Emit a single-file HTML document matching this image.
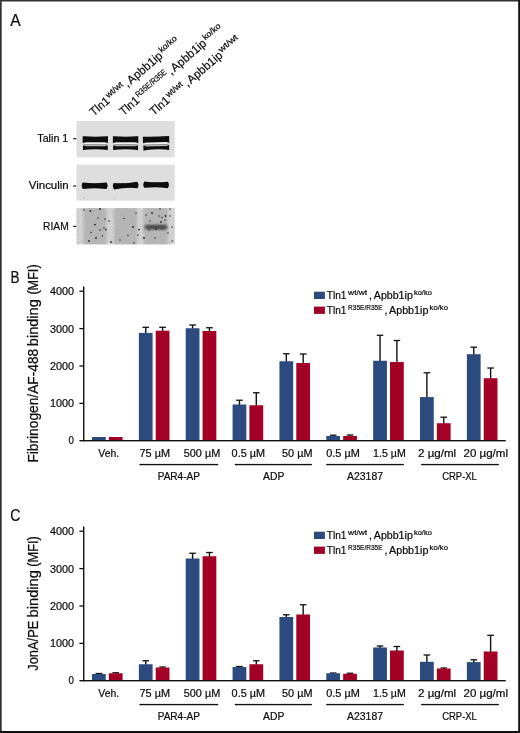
<!DOCTYPE html>
<html><head><meta charset="utf-8"><title>Figure</title>
<style>
html,body{margin:0;padding:0;background:#fff;}
body{width:520px;height:733px;overflow:hidden;position:relative;font-family:"Liberation Sans",sans-serif;}
svg{position:absolute;left:0;top:0;display:block;}
svg text{font-family:"Liberation Sans",sans-serif;fill:#0c0c0c;stroke:#0c0c0c;stroke-width:0.22px;}
</style></head><body>
<svg width="520" height="733" viewBox="0 0 520 733">
<defs>
<filter id="b1" x="-20%" y="-50%" width="140%" height="200%"><feGaussianBlur stdDeviation="0.45"/></filter>
<filter id="b2" x="-20%" y="-50%" width="140%" height="200%"><feGaussianBlur stdDeviation="1.25"/></filter>
<filter id="b3" x="-50%" y="-50%" width="200%" height="200%"><feGaussianBlur stdDeviation="0.35"/></filter>
<filter id="b5" x="-20%" y="-60%" width="140%" height="220%"><feGaussianBlur stdDeviation="1.0"/></filter>
<filter id="nz" x="0" y="0" width="100%" height="100%"><feTurbulence type="fractalNoise" baseFrequency="0.55" numOctaves="2" seed="7" result="n"/><feColorMatrix type="matrix" values="0 0 0 0 0.35  0 0 0 0 0.35  0 0 0 0 0.35  0.9 0 0 -0.32 0"/></filter>
<filter id="b4" x="-20%" y="-20%" width="140%" height="140%"><feGaussianBlur stdDeviation="1.6"/></filter>
</defs>
<rect x="0" y="0" width="520" height="733" fill="#fff"/>
<g opacity="0.999">

<rect x="0" y="0" width="520" height="1.5" fill="#333"/>
<rect x="0" y="0" width="1.7" height="733" fill="#333"/>
<rect x="518.2" y="0" width="1.8" height="733" fill="#111"/>
<rect x="0" y="731" width="520" height="2" fill="#111"/>
<text x="10.3" y="25.8" font-size="16.6" text-anchor="start" textLength="10.4" lengthAdjust="spacingAndGlyphs">A</text>
<text x="10.6" y="282.5" font-size="16.6" text-anchor="start" textLength="9" lengthAdjust="spacingAndGlyphs">B</text>
<text x="10.2" y="521" font-size="16.6" text-anchor="start" textLength="10.2" lengthAdjust="spacingAndGlyphs">C</text>
<rect x="76.5" y="121.0" width="98.19999999999999" height="36.19999999999999" fill="#dedede"/>
<rect x="76.5" y="164.7" width="98.19999999999999" height="36.0" fill="#dedede"/>
<rect x="76.5" y="208.1" width="98.19999999999999" height="36.20000000000002" fill="#dadada"/>
<g filter="url(#b1)">
<g>
<rect x="83.5" y="141.5" width="23.699999999999996" height="6" fill="#c2c2c2"/>
<rect x="84.3" y="142.3" width="22.099999999999998" height="1.8" fill="#f4f4f4"/>
<rect x="83.9" y="144.4" width="22.9" height="0.8" fill="#808080"/>
<path d="M82.7 136.3 Q95.35 137.0 108.0 136.3 L108.0 143.0 Q106.0 142.2 104.5 142.2 L86.2 142.2 Q84.7 142.2 82.7 143.0 Z" fill="#080808"/>
<path d="M83.0 145.0 Q84.5 146.2 86.2 146.2 L104.5 146.2 Q106.2 146.2 107.7 145.0 L107.7 150.3 Q104.0 149.2 95.35 149.2 Q86.7 149.2 83.0 150.3 Z" fill="#080808"/>
</g>
<g>
<rect x="113.7" y="141.5" width="23.800000000000004" height="6" fill="#c2c2c2"/>
<rect x="114.5" y="142.3" width="22.200000000000006" height="1.8" fill="#f4f4f4"/>
<rect x="114.10000000000001" y="144.4" width="23.000000000000007" height="0.8" fill="#808080"/>
<path d="M112.9 136.3 Q125.60000000000001 137.0 138.3 136.3 L138.3 143.0 Q136.3 142.2 134.8 142.2 L116.4 142.2 Q114.9 142.2 112.9 143.0 Z" fill="#080808"/>
<path d="M113.2 145.0 Q114.7 146.2 116.4 146.2 L134.8 146.2 Q136.5 146.2 138.0 145.0 L138.0 150.3 Q134.3 149.2 125.60000000000001 149.2 Q116.9 149.2 113.2 150.3 Z" fill="#080808"/>
</g>
<g transform="rotate(-1.6 156.15 143)">
<rect x="143.8" y="141.5" width="24.70000000000001" height="6" fill="#c2c2c2"/>
<rect x="144.6" y="142.3" width="23.100000000000012" height="1.8" fill="#f4f4f4"/>
<rect x="144.2" y="144.4" width="23.900000000000013" height="0.8" fill="#808080"/>
<path d="M143.0 136.3 Q156.15 137.0 169.3 136.3 L169.3 143.0 Q167.3 142.2 165.8 142.2 L146.5 142.2 Q145.0 142.2 143.0 143.0 Z" fill="#080808"/>
<path d="M143.3 145.0 Q144.8 146.2 146.5 146.2 L165.8 146.2 Q167.5 146.2 169.0 145.0 L169.0 150.3 Q165.3 149.2 156.15 149.2 Q147.0 149.2 143.3 150.3 Z" fill="#080808"/>
</g>
</g>
<g filter="url(#b1)">
<path d="M82.80000000000001 182.6 Q94.65 184.1 106.5 182.6 Q108.7 185.8 106.5 189.0 Q94.65 187.3 82.80000000000001 189.0 Q80.60000000000001 185.8 82.80000000000001 182.6 Z" fill="#080808"/>
<path transform="rotate(-3.2 125.65 185.5)" d="M113.9 182.39999999999998 Q125.65 183.89999999999998 137.4 182.39999999999998 Q139.60000000000002 185.59999999999997 137.4 188.79999999999998 Q125.65 187.1 113.9 188.79999999999998 Q111.7 185.59999999999997 113.9 182.39999999999998 Z" fill="#080808"/>
<path transform="rotate(0.8 156.1 185.5)" d="M144.4 181.6 Q156.1 183.1 167.79999999999998 181.6 Q170.0 184.8 167.79999999999998 188.0 Q156.1 186.3 144.4 188.0 Q142.2 184.8 144.4 181.6 Z" fill="#080808"/>
</g>
<circle cx="83.7" cy="197.7" r="0.6" fill="#aaa"/><circle cx="115" cy="198" r="0.6" fill="#aaa"/>
<g filter="url(#b2)">
<rect x="83.5" y="206.1" width="23.0" height="40.20000000000002" fill="#b9b9b9"/>
<rect x="114" y="206.1" width="23" height="40.20000000000002" fill="#b9b9b9"/>
<rect x="143.5" y="206.1" width="24.30000000000001" height="40.20000000000002" fill="#b9b9b9"/>
</g>
<rect x="73.5" y="203.1" width="104.19999999999999" height="5" fill="#fff"/>
<rect x="73.5" y="244.3" width="104.19999999999999" height="5" fill="#fff"/>
<rect x="76.5" y="208.1" width="98.19999999999999" height="36.20000000000002" filter="url(#nz)" opacity="0.55"/>
<rect x="144.4" y="224.7" width="23" height="4.8" rx="2" fill="#565656" filter="url(#b5)"/>
<rect x="147" y="225.8" width="19" height="2.8" rx="1.4" fill="#3c3c3c" filter="url(#b5)" opacity="0.5"/>
<g filter="url(#b3)" fill="#2a2a2a">
<circle cx="90.4" cy="211" r="0.95"/>
<circle cx="98" cy="218" r="0.75"/>
<circle cx="105" cy="219" r="0.75"/>
<circle cx="95" cy="224.6" r="0.95"/>
<circle cx="100" cy="230" r="0.75"/>
<circle cx="104" cy="228" r="0.75"/>
<circle cx="106" cy="229.6" r="0.95"/>
<circle cx="91" cy="232.6" r="0.75"/>
<circle cx="102.4" cy="236" r="0.75"/>
<circle cx="89" cy="241" r="0.95"/>
<circle cx="109" cy="221" r="0.75"/>
<circle cx="124" cy="218.6" r="0.75"/>
<circle cx="133" cy="227" r="0.95"/>
<circle cx="128" cy="235.6" r="0.75"/>
<circle cx="138" cy="235" r="0.75"/>
<circle cx="139" cy="229.6" r="0.95"/>
<circle cx="136" cy="213" r="0.75"/>
<circle cx="146" cy="215" r="0.75"/>
<circle cx="152" cy="213" r="0.95"/>
<circle cx="159" cy="216" r="0.75"/>
<circle cx="162" cy="217.6" r="0.75"/>
<circle cx="165.6" cy="216" r="0.95"/>
<circle cx="170" cy="216" r="0.75"/>
<circle cx="165" cy="220" r="0.75"/>
<circle cx="161" cy="222" r="0.95"/>
<circle cx="172" cy="227" r="0.75"/>
<circle cx="149" cy="230" r="0.75"/>
<circle cx="156" cy="229" r="0.95"/>
<circle cx="162" cy="229" r="0.75"/>
<circle cx="155" cy="238" r="0.75"/>
<circle cx="144" cy="238" r="0.95"/>
<circle cx="172" cy="241" r="0.75"/>
<circle cx="134" cy="243" r="0.75"/>
<circle cx="111" cy="242" r="0.95"/>
<circle cx="160" cy="209" r="0.75"/>
<circle cx="170" cy="209" r="0.75"/>
<circle cx="100" cy="209" r="0.95"/>
<circle cx="84" cy="210" r="0.75"/>
<circle cx="120" cy="240" r="0.75"/>
<circle cx="96" cy="238" r="0.95"/>
<circle cx="150" cy="221" r="0.75"/>
<circle cx="168" cy="233" r="0.75"/>
</g>
<text x="68.3" y="142.2" font-size="11.2" text-anchor="end" textLength="31" lengthAdjust="spacingAndGlyphs">Talin 1</text>
<text x="68.7" y="188.8" font-size="11.2" text-anchor="end" textLength="39.9" lengthAdjust="spacingAndGlyphs">Vinculin</text>
<text x="68.7" y="230.0" font-size="11.2" text-anchor="end" textLength="25.7" lengthAdjust="spacingAndGlyphs">RIAM</text>
<rect x="73.2" y="138.1" width="3.0" height="1.2" fill="#1a1a1a"/>
<rect x="73.2" y="185.4" width="3.0" height="1.2" fill="#1a1a1a"/>
<rect x="73.2" y="225.8" width="3.0" height="1.2" fill="#1a1a1a"/>
<g transform="translate(93.84 116.47) rotate(-40.5)">
<text x="0" y="0" font-size="11.8" text-anchor="start" textLength="22" lengthAdjust="spacingAndGlyphs">Tln1</text>
<text x="23.0" y="-4.3" font-size="8.4" text-anchor="start" textLength="19.7" lengthAdjust="spacingAndGlyphs" stroke-width="0.12">wt/wt</text>
<text x="44.300000000000004" y="0" font-size="11.8" text-anchor="start">,</text>
<text x="49.0" y="0" font-size="11.8" text-anchor="start" textLength="42.6" lengthAdjust="spacingAndGlyphs">Apbb1ip</text>
<text x="92.6" y="-4.3" font-size="8.4" text-anchor="start" textLength="21.1" lengthAdjust="spacingAndGlyphs" stroke-width="0.12">ko/ko</text>
</g>
<g transform="translate(123.44 116.07) rotate(-40.5)">
<text x="0" y="0" font-size="11.8" text-anchor="start" textLength="22" lengthAdjust="spacingAndGlyphs">Tln1</text>
<text x="23.0" y="-4.3" font-size="8.4" text-anchor="start" textLength="38.3" lengthAdjust="spacingAndGlyphs" stroke-width="0.12">R35E/R35E</text>
<text x="62.9" y="0" font-size="11.8" text-anchor="start">,</text>
<text x="67.6" y="0" font-size="11.8" text-anchor="start" textLength="42.6" lengthAdjust="spacingAndGlyphs">Apbb1ip</text>
<text x="111.19999999999999" y="-4.3" font-size="8.4" text-anchor="start" textLength="21.1" lengthAdjust="spacingAndGlyphs" stroke-width="0.12">ko/ko</text>
</g>
<g transform="translate(153.74 116.07) rotate(-40.5)">
<text x="0" y="0" font-size="11.8" text-anchor="start" textLength="22" lengthAdjust="spacingAndGlyphs">Tln1</text>
<text x="23.0" y="-4.3" font-size="8.4" text-anchor="start" textLength="19.7" lengthAdjust="spacingAndGlyphs" stroke-width="0.12">wt/wt</text>
<text x="44.300000000000004" y="0" font-size="11.8" text-anchor="start">,</text>
<text x="49.0" y="0" font-size="11.8" text-anchor="start" textLength="42.6" lengthAdjust="spacingAndGlyphs">Apbb1ip</text>
<text x="92.6" y="-4.3" font-size="8.4" text-anchor="start" textLength="22.4" lengthAdjust="spacingAndGlyphs" stroke-width="0.12">wt/wt</text>
</g>
<rect x="92.00" y="437.00" width="13.75" height="3.50" fill="#2c4a7e"/>
<rect x="108.85" y="437.00" width="13.75" height="3.50" fill="#a30026"/>
<rect x="145.04" y="327.30" width="1.4" height="6.10" fill="#111"/>
<rect x="142.44" y="326.65" width="6.6" height="1.3" fill="#111"/>
<rect x="138.86" y="332.90" width="13.75" height="107.60" fill="#2c4a7e"/>
<rect x="161.89" y="327.30" width="1.4" height="3.90" fill="#111"/>
<rect x="159.28" y="326.65" width="6.6" height="1.3" fill="#111"/>
<rect x="155.71" y="330.70" width="13.75" height="109.80" fill="#a30026"/>
<rect x="191.90" y="325.00" width="1.4" height="3.75" fill="#111"/>
<rect x="189.29" y="324.35" width="6.6" height="1.3" fill="#111"/>
<rect x="185.72" y="328.25" width="13.75" height="112.25" fill="#2c4a7e"/>
<rect x="208.75" y="327.75" width="1.4" height="3.75" fill="#111"/>
<rect x="206.14" y="327.10" width="6.6" height="1.3" fill="#111"/>
<rect x="202.57" y="331.00" width="13.75" height="109.50" fill="#a30026"/>
<rect x="238.75" y="400.25" width="1.4" height="4.75" fill="#111"/>
<rect x="236.15" y="399.60" width="6.6" height="1.3" fill="#111"/>
<rect x="232.58" y="404.50" width="13.75" height="36.00" fill="#2c4a7e"/>
<rect x="255.60" y="392.75" width="1.4" height="13.00" fill="#111"/>
<rect x="253.00" y="392.10" width="6.6" height="1.3" fill="#111"/>
<rect x="249.43" y="405.25" width="13.75" height="35.25" fill="#a30026"/>
<rect x="285.62" y="353.75" width="1.4" height="8.00" fill="#111"/>
<rect x="283.01" y="353.10" width="6.6" height="1.3" fill="#111"/>
<rect x="279.44" y="361.25" width="13.75" height="79.25" fill="#2c4a7e"/>
<rect x="302.47" y="354.00" width="1.4" height="9.50" fill="#111"/>
<rect x="299.87" y="353.35" width="6.6" height="1.3" fill="#111"/>
<rect x="296.29" y="363.00" width="13.75" height="77.50" fill="#a30026"/>
<rect x="332.48" y="435.20" width="1.4" height="1.30" fill="#111"/>
<rect x="329.88" y="434.55" width="6.6" height="1.3" fill="#111"/>
<rect x="326.30" y="436.00" width="13.75" height="4.50" fill="#2c4a7e"/>
<rect x="349.33" y="435.00" width="1.4" height="1.50" fill="#111"/>
<rect x="346.73" y="434.35" width="6.6" height="1.3" fill="#111"/>
<rect x="343.15" y="436.00" width="13.75" height="4.50" fill="#a30026"/>
<rect x="379.33" y="335.25" width="1.4" height="26.00" fill="#111"/>
<rect x="376.73" y="334.60" width="6.6" height="1.3" fill="#111"/>
<rect x="373.16" y="360.75" width="13.75" height="79.75" fill="#2c4a7e"/>
<rect x="396.19" y="340.50" width="1.4" height="22.00" fill="#111"/>
<rect x="393.58" y="339.85" width="6.6" height="1.3" fill="#111"/>
<rect x="390.01" y="362.00" width="13.75" height="78.50" fill="#a30026"/>
<rect x="426.19" y="372.80" width="1.4" height="24.80" fill="#111"/>
<rect x="423.59" y="372.15" width="6.6" height="1.3" fill="#111"/>
<rect x="420.02" y="397.10" width="13.75" height="43.40" fill="#2c4a7e"/>
<rect x="443.05" y="417.20" width="1.4" height="6.50" fill="#111"/>
<rect x="440.44" y="416.55" width="6.6" height="1.3" fill="#111"/>
<rect x="436.87" y="423.20" width="13.75" height="17.30" fill="#a30026"/>
<rect x="473.06" y="347.20" width="1.4" height="7.50" fill="#111"/>
<rect x="470.45" y="346.55" width="6.6" height="1.3" fill="#111"/>
<rect x="466.88" y="354.20" width="13.75" height="86.30" fill="#2c4a7e"/>
<rect x="489.91" y="368.00" width="1.4" height="10.70" fill="#111"/>
<rect x="487.31" y="367.35" width="6.6" height="1.3" fill="#111"/>
<rect x="483.73" y="378.20" width="13.75" height="62.30" fill="#a30026"/>
<rect x="83.0" y="286.5" width="1.4" height="154.8" fill="#111"/>
<rect x="79.4" y="440.0" width="426.29999999999995" height="1.4" fill="#111"/>
<rect x="79.4" y="402.75" width="4" height="1.3" fill="#111"/>
<text x="74.0" y="407.3" font-size="10.8" text-anchor="end" textLength="24.1" lengthAdjust="spacingAndGlyphs">1000</text>
<rect x="79.4" y="365.35" width="4" height="1.3" fill="#111"/>
<text x="74.0" y="369.9" font-size="10.8" text-anchor="end" textLength="24.1" lengthAdjust="spacingAndGlyphs">2000</text>
<rect x="79.4" y="327.95" width="4" height="1.3" fill="#111"/>
<text x="74.0" y="332.5" font-size="10.8" text-anchor="end" textLength="24.1" lengthAdjust="spacingAndGlyphs">3000</text>
<rect x="79.4" y="290.55" width="4" height="1.3" fill="#111"/>
<text x="74.0" y="295.1" font-size="10.8" text-anchor="end" textLength="24.1" lengthAdjust="spacingAndGlyphs">4000</text>
<text x="74.0" y="444.45" font-size="10.8" text-anchor="end" textLength="5.4" lengthAdjust="spacingAndGlyphs">0</text>
<g transform="translate(37.9 462.6) rotate(-90)">
<text x="0" y="0" font-size="14.2" text-anchor="start" textLength="113.8" lengthAdjust="spacingAndGlyphs" stroke-width="0.15">Fibrinogen/AF-488</text>
</g>
<g transform="translate(37.9 346.2) rotate(-90)">
<text x="0" y="0" font-size="14.2" text-anchor="start" textLength="47.0" lengthAdjust="spacingAndGlyphs" stroke-width="0.15">binding</text>
</g>
<g transform="translate(37.9 294.6) rotate(-90)">
<text x="0" y="0" font-size="14.2" text-anchor="start" textLength="30.2" lengthAdjust="spacingAndGlyphs" stroke-width="0.15">(MFI)</text>
</g>
<text x="98.25" y="457" font-size="10.9" text-anchor="start" textLength="21.0" lengthAdjust="spacingAndGlyphs">Veh.</text>
<text x="139.5" y="457" font-size="10.9" text-anchor="start" textLength="30.5" lengthAdjust="spacingAndGlyphs">75 µM</text>
<text x="183.75" y="457" font-size="10.9" text-anchor="start" textLength="36.5" lengthAdjust="spacingAndGlyphs">500 µM</text>
<text x="231.6" y="457" font-size="10.9" text-anchor="start" textLength="33.4" lengthAdjust="spacingAndGlyphs">0.5 µM</text>
<text x="282.0" y="457" font-size="10.9" text-anchor="start" textLength="30.5" lengthAdjust="spacingAndGlyphs">50 µM</text>
<text x="326.25" y="457" font-size="10.9" text-anchor="start" textLength="33.6" lengthAdjust="spacingAndGlyphs">0.5 µM</text>
<text x="373.0" y="457" font-size="10.9" text-anchor="start" textLength="32.8" lengthAdjust="spacingAndGlyphs">1.5 µM</text>
<text x="418.0" y="457" font-size="10.9" text-anchor="start" textLength="38.1" lengthAdjust="spacingAndGlyphs">2 µg/ml</text>
<text x="463.5" y="457" font-size="10.9" text-anchor="start" textLength="44.5" lengthAdjust="spacingAndGlyphs">20 µg/ml</text>
<rect x="139.5" y="463.9" width="78.70" height="1.35" fill="#111"/>
<text x="157.7" y="479.8" font-size="10.6" text-anchor="start" textLength="42.3" lengthAdjust="spacingAndGlyphs">PAR4-AP</text>
<rect x="234.8" y="463.9" width="77.10" height="1.35" fill="#111"/>
<text x="263.0" y="479.8" font-size="10.6" text-anchor="start" textLength="21.3" lengthAdjust="spacingAndGlyphs">ADP</text>
<rect x="326.25" y="463.9" width="77.55" height="1.35" fill="#111"/>
<text x="347.0" y="479.8" font-size="10.6" text-anchor="start" textLength="36.0" lengthAdjust="spacingAndGlyphs">A23187</text>
<rect x="421.2" y="463.9" width="77.60" height="1.35" fill="#111"/>
<text x="442.2" y="479.8" font-size="10.6" text-anchor="start" textLength="34.7" lengthAdjust="spacingAndGlyphs">CRP-XL</text>
<rect x="314" y="291.7" width="10.9" height="7.3" fill="#2c4a7e"/>
<rect x="314" y="306.6" width="10.9" height="7.3" fill="#a30026"/>
<text x="326.8" y="299.0" font-size="10.2" text-anchor="start" textLength="19.5" lengthAdjust="spacingAndGlyphs">Tln1</text>
<text x="348.1" y="294.7" font-size="7.6" text-anchor="start" textLength="19.1" lengthAdjust="spacingAndGlyphs" stroke-width="0.12">wt/wt</text>
<text x="369.0" y="299.0" font-size="10.2" text-anchor="start">,</text>
<text x="373.8" y="299.0" font-size="10.2" text-anchor="start" textLength="39.0" lengthAdjust="spacingAndGlyphs">Apbb1ip</text>
<text x="414.0" y="294.7" font-size="7.6" text-anchor="start" textLength="17.8" lengthAdjust="spacingAndGlyphs" stroke-width="0.12">ko/ko</text>
<text x="326.8" y="313.9" font-size="10.2" text-anchor="start" textLength="19.5" lengthAdjust="spacingAndGlyphs">Tln1</text>
<text x="348.1" y="309.7" font-size="7.6" text-anchor="start" textLength="34.4" lengthAdjust="spacingAndGlyphs" stroke-width="0.12">R35E/R35E</text>
<text x="384.5" y="313.9" font-size="10.2" text-anchor="start">,</text>
<text x="389.0" y="313.9" font-size="10.2" text-anchor="start" textLength="39.4" lengthAdjust="spacingAndGlyphs">Apbb1ip</text>
<text x="429.6" y="309.59999999999997" font-size="7.6" text-anchor="start" textLength="18.4" lengthAdjust="spacingAndGlyphs" stroke-width="0.12">ko/ko</text>
<rect x="98.17" y="673.50" width="1.4" height="1.00" fill="#111"/>
<rect x="95.58" y="672.85" width="6.6" height="1.3" fill="#111"/>
<rect x="92.00" y="674.00" width="13.75" height="6.50" fill="#2c4a7e"/>
<rect x="115.02" y="672.75" width="1.4" height="1.00" fill="#111"/>
<rect x="112.42" y="672.10" width="6.6" height="1.3" fill="#111"/>
<rect x="108.85" y="673.25" width="13.75" height="7.25" fill="#a30026"/>
<rect x="145.04" y="660.75" width="1.4" height="4.00" fill="#111"/>
<rect x="142.44" y="660.10" width="6.6" height="1.3" fill="#111"/>
<rect x="138.86" y="664.25" width="13.75" height="16.25" fill="#2c4a7e"/>
<rect x="161.89" y="667.00" width="1.4" height="1.00" fill="#111"/>
<rect x="159.28" y="666.35" width="6.6" height="1.3" fill="#111"/>
<rect x="155.71" y="667.50" width="13.75" height="13.00" fill="#a30026"/>
<rect x="191.90" y="553.25" width="1.4" height="5.75" fill="#111"/>
<rect x="189.29" y="552.60" width="6.6" height="1.3" fill="#111"/>
<rect x="185.72" y="558.50" width="13.75" height="122.00" fill="#2c4a7e"/>
<rect x="208.75" y="552.50" width="1.4" height="4.25" fill="#111"/>
<rect x="206.14" y="551.85" width="6.6" height="1.3" fill="#111"/>
<rect x="202.57" y="556.25" width="13.75" height="124.25" fill="#a30026"/>
<rect x="238.75" y="666.50" width="1.4" height="1.00" fill="#111"/>
<rect x="236.15" y="665.85" width="6.6" height="1.3" fill="#111"/>
<rect x="232.58" y="667.00" width="13.75" height="13.50" fill="#2c4a7e"/>
<rect x="255.60" y="660.75" width="1.4" height="4.00" fill="#111"/>
<rect x="253.00" y="660.10" width="6.6" height="1.3" fill="#111"/>
<rect x="249.43" y="664.25" width="13.75" height="16.25" fill="#a30026"/>
<rect x="285.62" y="614.75" width="1.4" height="2.75" fill="#111"/>
<rect x="283.01" y="614.10" width="6.6" height="1.3" fill="#111"/>
<rect x="279.44" y="617.00" width="13.75" height="63.50" fill="#2c4a7e"/>
<rect x="302.47" y="604.75" width="1.4" height="10.25" fill="#111"/>
<rect x="299.87" y="604.10" width="6.6" height="1.3" fill="#111"/>
<rect x="296.29" y="614.50" width="13.75" height="66.00" fill="#a30026"/>
<rect x="332.48" y="673.00" width="1.4" height="0.75" fill="#111"/>
<rect x="329.88" y="672.35" width="6.6" height="1.3" fill="#111"/>
<rect x="326.30" y="673.25" width="13.75" height="7.25" fill="#2c4a7e"/>
<rect x="349.33" y="673.25" width="1.4" height="1.00" fill="#111"/>
<rect x="346.73" y="672.60" width="6.6" height="1.3" fill="#111"/>
<rect x="343.15" y="673.75" width="13.75" height="6.75" fill="#a30026"/>
<rect x="379.33" y="646.00" width="1.4" height="2.00" fill="#111"/>
<rect x="376.73" y="645.35" width="6.6" height="1.3" fill="#111"/>
<rect x="373.16" y="647.50" width="13.75" height="33.00" fill="#2c4a7e"/>
<rect x="396.19" y="646.50" width="1.4" height="4.50" fill="#111"/>
<rect x="393.58" y="645.85" width="6.6" height="1.3" fill="#111"/>
<rect x="390.01" y="650.50" width="13.75" height="30.00" fill="#a30026"/>
<rect x="426.19" y="655.00" width="1.4" height="7.30" fill="#111"/>
<rect x="423.59" y="654.35" width="6.6" height="1.3" fill="#111"/>
<rect x="420.02" y="661.80" width="13.75" height="18.70" fill="#2c4a7e"/>
<rect x="443.05" y="668.00" width="1.4" height="1.00" fill="#111"/>
<rect x="440.44" y="667.35" width="6.6" height="1.3" fill="#111"/>
<rect x="436.87" y="668.50" width="13.75" height="12.00" fill="#a30026"/>
<rect x="473.06" y="659.80" width="1.4" height="2.80" fill="#111"/>
<rect x="470.45" y="659.15" width="6.6" height="1.3" fill="#111"/>
<rect x="466.88" y="662.10" width="13.75" height="18.40" fill="#2c4a7e"/>
<rect x="489.91" y="635.30" width="1.4" height="16.70" fill="#111"/>
<rect x="487.31" y="634.65" width="6.6" height="1.3" fill="#111"/>
<rect x="483.73" y="651.50" width="13.75" height="29.00" fill="#a30026"/>
<rect x="83.0" y="526.5" width="1.4" height="154.8" fill="#111"/>
<rect x="79.4" y="680.0" width="426.29999999999995" height="1.4" fill="#111"/>
<rect x="79.4" y="642.75" width="4" height="1.3" fill="#111"/>
<text x="74.0" y="647.3" font-size="10.8" text-anchor="end" textLength="24.1" lengthAdjust="spacingAndGlyphs">1000</text>
<rect x="79.4" y="605.35" width="4" height="1.3" fill="#111"/>
<text x="74.0" y="609.9" font-size="10.8" text-anchor="end" textLength="24.1" lengthAdjust="spacingAndGlyphs">2000</text>
<rect x="79.4" y="567.95" width="4" height="1.3" fill="#111"/>
<text x="74.0" y="572.5" font-size="10.8" text-anchor="end" textLength="24.1" lengthAdjust="spacingAndGlyphs">3000</text>
<rect x="79.4" y="530.55" width="4" height="1.3" fill="#111"/>
<text x="74.0" y="535.1" font-size="10.8" text-anchor="end" textLength="24.1" lengthAdjust="spacingAndGlyphs">4000</text>
<text x="74.0" y="684.45" font-size="10.8" text-anchor="end" textLength="5.4" lengthAdjust="spacingAndGlyphs">0</text>
<g transform="translate(37.9 670.8) rotate(-90)">
<text x="0" y="0" font-size="14.2" text-anchor="start" textLength="50.2" lengthAdjust="spacingAndGlyphs" stroke-width="0.15">JonA/PE</text>
</g>
<g transform="translate(37.9 617.4) rotate(-90)">
<text x="0" y="0" font-size="14.2" text-anchor="start" textLength="47.2" lengthAdjust="spacingAndGlyphs" stroke-width="0.15">binding</text>
</g>
<g transform="translate(37.9 566.8) rotate(-90)">
<text x="0" y="0" font-size="14.2" text-anchor="start" textLength="30.6" lengthAdjust="spacingAndGlyphs" stroke-width="0.15">(MFI)</text>
</g>
<text x="98.25" y="697" font-size="10.9" text-anchor="start" textLength="21.0" lengthAdjust="spacingAndGlyphs">Veh.</text>
<text x="139.5" y="697" font-size="10.9" text-anchor="start" textLength="30.5" lengthAdjust="spacingAndGlyphs">75 µM</text>
<text x="183.75" y="697" font-size="10.9" text-anchor="start" textLength="36.5" lengthAdjust="spacingAndGlyphs">500 µM</text>
<text x="231.6" y="697" font-size="10.9" text-anchor="start" textLength="33.4" lengthAdjust="spacingAndGlyphs">0.5 µM</text>
<text x="282.0" y="697" font-size="10.9" text-anchor="start" textLength="30.5" lengthAdjust="spacingAndGlyphs">50 µM</text>
<text x="326.25" y="697" font-size="10.9" text-anchor="start" textLength="33.6" lengthAdjust="spacingAndGlyphs">0.5 µM</text>
<text x="373.0" y="697" font-size="10.9" text-anchor="start" textLength="32.8" lengthAdjust="spacingAndGlyphs">1.5 µM</text>
<text x="418.0" y="697" font-size="10.9" text-anchor="start" textLength="38.1" lengthAdjust="spacingAndGlyphs">2 µg/ml</text>
<text x="463.5" y="697" font-size="10.9" text-anchor="start" textLength="44.5" lengthAdjust="spacingAndGlyphs">20 µg/ml</text>
<rect x="139.5" y="703.9" width="78.70" height="1.35" fill="#111"/>
<text x="157.7" y="719.8" font-size="10.6" text-anchor="start" textLength="42.3" lengthAdjust="spacingAndGlyphs">PAR4-AP</text>
<rect x="234.8" y="703.9" width="77.10" height="1.35" fill="#111"/>
<text x="263.0" y="719.8" font-size="10.6" text-anchor="start" textLength="21.3" lengthAdjust="spacingAndGlyphs">ADP</text>
<rect x="326.25" y="703.9" width="77.55" height="1.35" fill="#111"/>
<text x="347.0" y="719.8" font-size="10.6" text-anchor="start" textLength="36.0" lengthAdjust="spacingAndGlyphs">A23187</text>
<rect x="421.2" y="703.9" width="77.60" height="1.35" fill="#111"/>
<text x="442.2" y="719.8" font-size="10.6" text-anchor="start" textLength="34.7" lengthAdjust="spacingAndGlyphs">CRP-XL</text>
<rect x="314" y="531.7" width="10.9" height="7.3" fill="#2c4a7e"/>
<rect x="314" y="546.6" width="10.9" height="7.3" fill="#a30026"/>
<text x="326.8" y="539.0" font-size="10.2" text-anchor="start" textLength="19.5" lengthAdjust="spacingAndGlyphs">Tln1</text>
<text x="348.1" y="534.7" font-size="7.6" text-anchor="start" textLength="19.1" lengthAdjust="spacingAndGlyphs" stroke-width="0.12">wt/wt</text>
<text x="369.0" y="539.0" font-size="10.2" text-anchor="start">,</text>
<text x="373.8" y="539.0" font-size="10.2" text-anchor="start" textLength="39.0" lengthAdjust="spacingAndGlyphs">Apbb1ip</text>
<text x="414.0" y="534.7" font-size="7.6" text-anchor="start" textLength="17.8" lengthAdjust="spacingAndGlyphs" stroke-width="0.12">ko/ko</text>
<text x="326.8" y="553.9" font-size="10.2" text-anchor="start" textLength="19.5" lengthAdjust="spacingAndGlyphs">Tln1</text>
<text x="348.1" y="549.6999999999999" font-size="7.6" text-anchor="start" textLength="34.4" lengthAdjust="spacingAndGlyphs" stroke-width="0.12">R35E/R35E</text>
<text x="384.5" y="553.9" font-size="10.2" text-anchor="start">,</text>
<text x="389.0" y="553.9" font-size="10.2" text-anchor="start" textLength="39.4" lengthAdjust="spacingAndGlyphs">Apbb1ip</text>
<text x="429.6" y="549.6" font-size="7.6" text-anchor="start" textLength="18.4" lengthAdjust="spacingAndGlyphs" stroke-width="0.12">ko/ko</text>
</g>
</svg>
</body></html>
